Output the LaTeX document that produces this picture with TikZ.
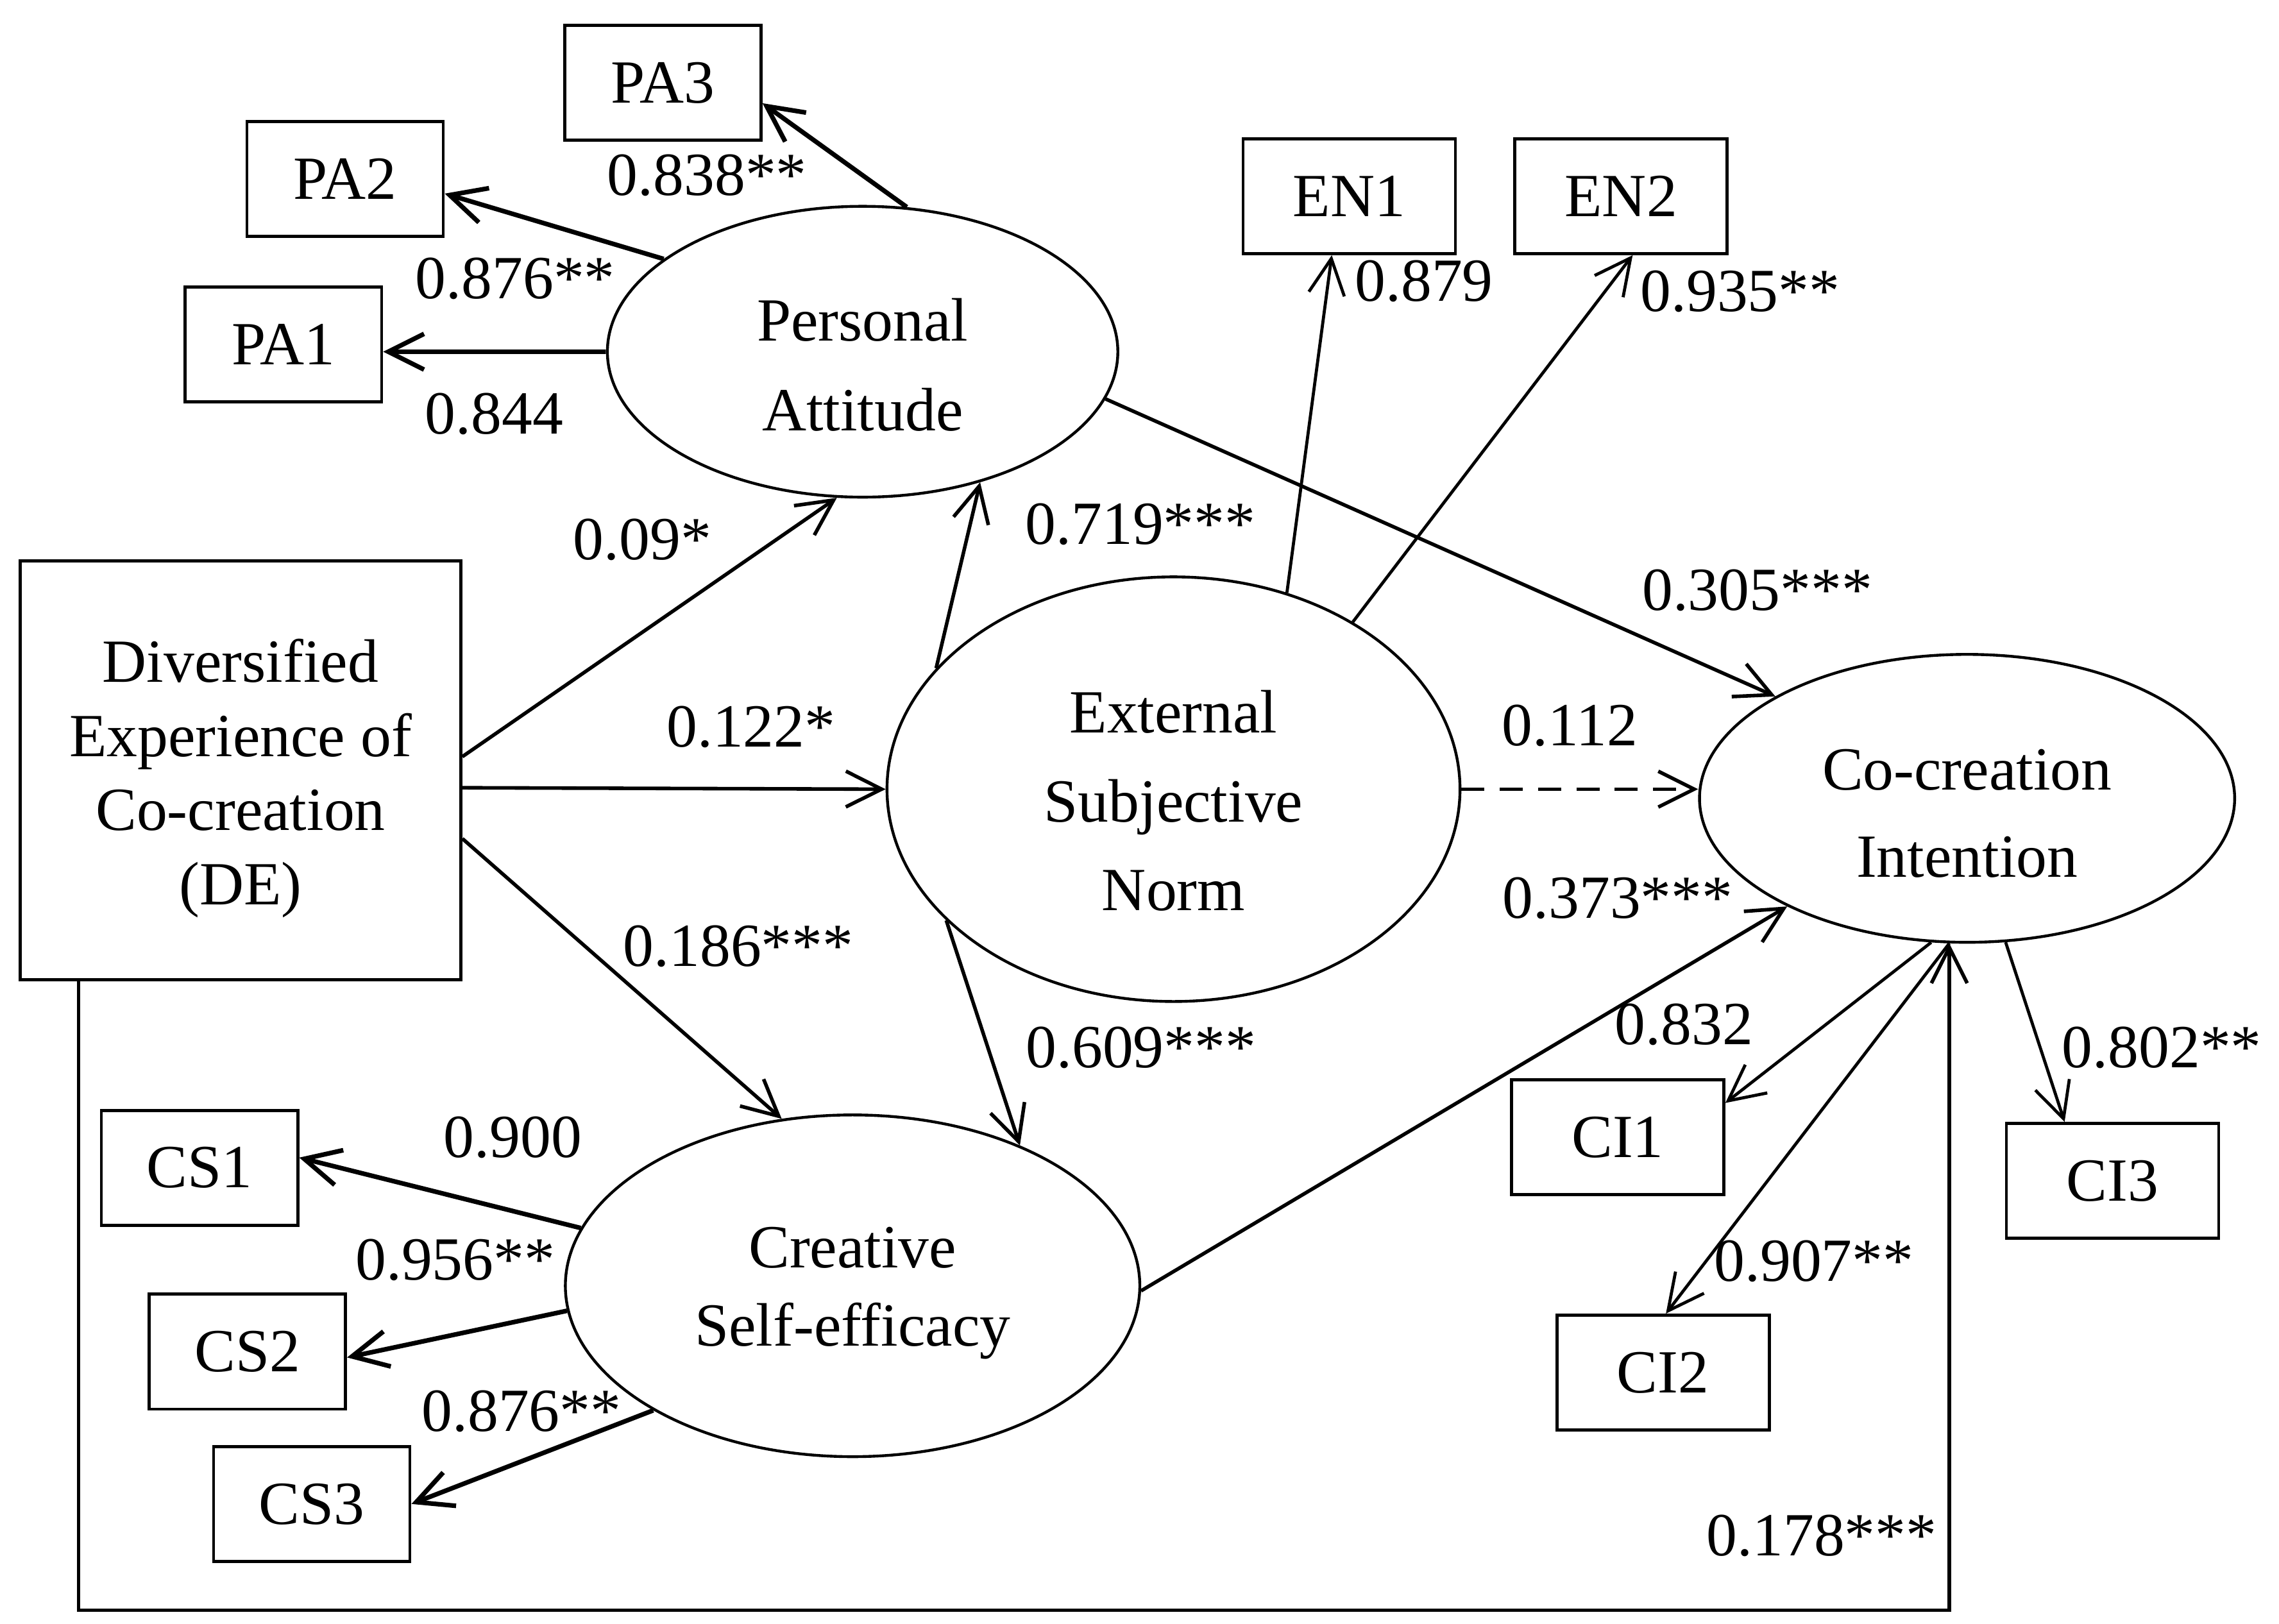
\documentclass[tikz,border=0pt]{standalone}
\usepackage{fontspec}
\setmainfont{Liberation Serif}
\usetikzlibrary{shapes.geometric,arrows.meta}

\begin{document}
\begin{tikzpicture}[x=0.01cm, y=-0.01cm,
        font=\fontsize{12}{14}\selectfont,
        >={Straight Barb[length=7pt,width=7pt]},
        construct/.style={draw, ellipse, line width=0.55pt, inner sep=0pt},
        caption/.style={align=center, inner sep=0pt},
        item/.style={draw, rectangle, line width=0.6pt, inner sep=0pt,
                     minimum width=1.35cm, minimum height=0.79cm},
        link/.style={->, line width=0.7pt},
        load/.style={->, line width=0.9pt},
        thinload/.style={->, line width=0.6pt},
        coef/.style={inner sep=0pt}]
    \useasboundingbox (0,0) rectangle (1568,1117);

    % Exogenous variable
    \node[draw, line width=0.6pt, minimum width=3.03cm, minimum height=2.88cm] (DE) at (165.5,530) {};
    \node[caption, font=\fontsize{12}{14.5}\selectfont] (DE-text) at ([yshift=-0.055cm]DE.center)
          {Diversified\\Experience of\\Co-creation\\(DE)};

    % Latent constructs
    \node[construct, minimum width=3.51cm, minimum height=2cm] (PA) at (593.5,242) {};
    \node[caption, font=\fontsize{12}{17.6}\selectfont] (PA-text) at ([yshift=-0.09cm]PA.center)
          {Personal\\Attitude};
    \node[construct, minimum width=3.94cm, minimum height=2.92cm] (EN) at (807.4,543) {};
    \node[caption, font=\fontsize{12}{17.4}\selectfont] (EN-text) at ([yshift=-0.08cm]EN.center)
          {External\\Subjective\\Norm};
    \node[construct, minimum width=3.68cm, minimum height=1.98cm] (CI) at (1353.4,549.3) {};
    \node[caption, font=\fontsize{12}{17}\selectfont] (CI-text) at ([yshift=-0.105cm]CI.center)
          {Co-creation\\Intention};
    \node[construct, minimum width=3.95cm, minimum height=2.35cm] (CS) at (586.6,884.7) {};
    \node[caption, font=\fontsize{12}{15.4}\selectfont] (CS-text) at ([yshift=-0.05cm]CS.center)
          {Creative\\Self-efficacy};

    % Indicators
    \node[item] (PA1) at (195,237) {PA1};
    \node[item] (PA2) at (237.4,123.2) {PA2};
    \node[item] (PA3) at (456,57) {PA3};
    \node[item, minimum width=1.46cm] (EN1) at (928.3,135) {EN1};
    \node[item, minimum width=1.46cm] (EN2) at (1115.3,135) {EN2};
    \node[item, minimum width=1.46cm] (CI1) at (1113,782.5) {CI1};
    \node[item, minimum width=1.46cm] (CI2) at (1144.2,944.4) {CI2};
    \node[item, minimum width=1.46cm] (CI3) at (1453.5,812.5) {CI3};
    \node[item] (CS1) at (137.3,803.5) {CS1};
    \node[item] (CS2) at (170.2,930) {CS2};
    \node[item] (CS3) at (214.5,1034.8) {CS3};

    % Structural paths
    \draw[link] ([yshift=0.094cm]DE.east) -- (PA.-100);
    \draw[link] ([yshift=-0.12cm]DE.east) -- (EN.west);
    \draw[link] ([yshift=-0.47cm]DE.east) -- (CS.113.5);
    \draw[link] (EN.153) -- (PA.-48);
    \draw[link] (EN.-150) -- (CS.40.7);
    \draw[link] (PA.-11.4) -- (CI.152.7);
    \draw[link, dash pattern=on 4.5pt off 3pt] (EN.east) -- (EN.east -| CI.west);
    \draw[link] (CS.-1) -- (CI.-149.3);
    \coordinate (loop) at (54,1108);
    \draw[link] (DE.south -| loop) -- (loop) -| (CI.263);

    % Loadings
    \draw[load] (PA.west) -- ([yshift=-0.05cm]PA1.east);
    \draw[load] (PA.155.7) -- ([yshift=-0.1cm]PA2.east);
    \draw[load] (PA.73.9) -- ([yshift=-0.14cm]PA3.east);
    \draw[thinload] (EN.60.4) -- ([xshift=-0.12cm]EN1.south);
    \draw[thinload] (EN.43.1) -- ([xshift=0.08cm]EN2.south);
    \draw[thinload] (CI.256.7) -- ([yshift=0.236cm]CI1.east);
    \draw[thinload] (CI.263) -- ([xshift=0.02cm]CI2.north);
    \draw[thinload] (CI.285.4) -- ([xshift=-0.33cm]CI3.north);
    \draw[load] (CS.168.3) -- ([yshift=0.07cm]CS1.east);
    \draw[load] (CS.185.2) -- ([yshift=-0.04cm]CS2.east);
    \draw[load] (CS.212.1) -- (CS3.east);

    % Coefficients
    \node[coef] (wPA3) at (486.5,120.8) {0.838**};
    \node[coef] (wPA2) at (354.5,191.6) {0.876**};
    \node[coef] (wPA1) at (340,285) {0.844};
    \node[coef] (bDEPA) at (442,371.5) {0.09*};
    \node[coef] (bENPA) at (784.7,360.5) {0.719***};
    \node[coef] (bDEEN) at (516.7,500) {0.122*};
    \node[coef] (bDECS) at (508,651) {0.186***};
    \node[coef] (bENCS) at (785,721) {0.609***};
    \node[coef] (wEN1) at (979.8,193.5) {0.879};
    \node[coef] (wEN2) at (1197.3,200.7) {0.935**};
    \node[coef] (bPACI) at (1209,406) {0.305***};
    \node[coef] (bENCI) at (1080,499.5) {0.112};
    \node[coef] (bCSCI) at (1113,618) {0.373***};
    \node[coef] (wCI1) at (1158.6,704.8) {0.832};
    \node[coef] (wCI3) at (1487.4,721) {0.802**};
    \node[coef] (wCI2) at (1248,867.7) {0.907**};
    \node[coef] (bDECI) at (1253.4,1056.8) {0.178***};
    \node[coef] (wCS1) at (352.8,782.4) {0.900};
    \node[coef] (wCS2) at (313.2,867) {0.956**};
    \node[coef] (wCS3) at (358.8,971) {0.876**};
\end{tikzpicture}
\end{document}
